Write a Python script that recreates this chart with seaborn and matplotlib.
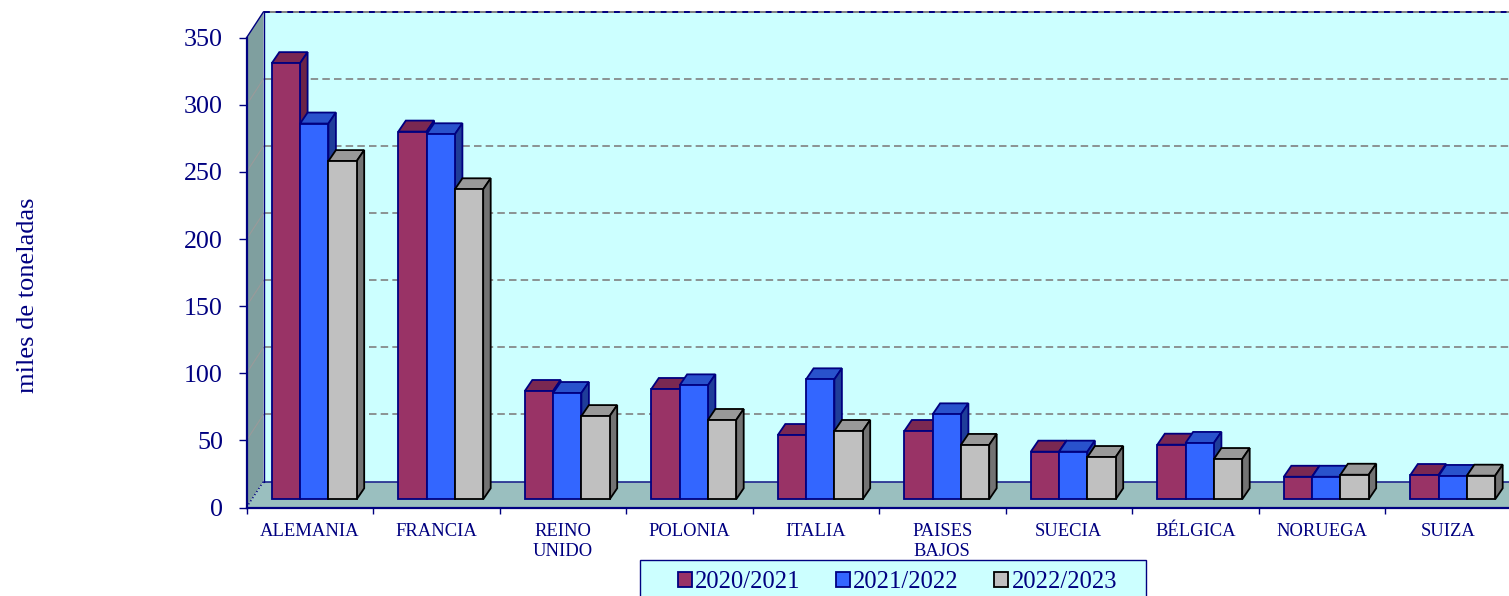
import pandas as pd
import numpy as np
import matplotlib
matplotlib.use('Agg')
import matplotlib.pyplot as plt
from matplotlib.patches import Polygon, Rectangle
import seaborn as sns

paises = ['ALEMANIA', 'FRANCIA', 'REINO\nUNIDO', 'POLONIA', 'ITALIA', 'PAISES\nBAJOS',
          'SUECIA', 'BÉLGICA', 'NORUEGA', 'SUIZA']
campanas = ['2020/2021', '2021/2022', '2022/2023']
v_2020 = [325, 274, 80.7, 82.2, 47.9, 50.9, 35.5, 40.7, 16.8, 18.1]
v_2021 = [280, 272, 79.2, 84.9, 89.4, 63.3, 35.5, 42, 16.8, 17.4]
v_2022 = [252, 231, 62, 59.1, 50.9, 40.5, 31.5, 30, 18.3, 17.6]
yticks = [0, 50, 100, 150, 200, 250, 300, 350]

NAVY = '#000080'
frente = ['#993366', '#3366FF', '#C0C0C0']
tapa = ['#7A2852', '#2952CC', '#999999']
lado = ['#6B2447', '#1F3D99', '#737373']
borde = [NAVY, NAVY, '#000000']

sns.set_style('white')
plt.rcParams['font.family'] = ['Liberation Serif', 'DejaVu Serif']

df = pd.DataFrame({
    'pais': paises * 3,
    'campana': np.repeat(campanas, len(paises)),
    'valor': v_2020 + v_2021 + v_2022,
})

W, H = 1509, 596
fig = plt.figure(figsize=(W / 100, H / 100), dpi=100)
# area del eje en pixeles: x de 246.5, 126.5 px por categoria; y 0 en 507.5, 1.342 px por unidad
PX_CAT, PX_VAL = 126.5, 1.342
ax = fig.add_axes([246.5 / W, (H - 507.5) / H, PX_CAT * 10 / W, PX_VAL * 350 / H])
ax.patch.set_visible(False)

sns.barplot(data=df, x='pais', y='valor', hue='campana', order=paises, hue_order=campanas,
            palette=frente, width=0.671, gap=0, dodge=True, saturation=1, errorbar=None,
            legend=False, ax=ax)

x0, x1 = -0.5, 9.5
ax.set_xlim(x0, x1)
ax.set_ylim(0, 350)

# profundidad de paredes y de barras
dx_p, dy_p = 17 / PX_CAT, 26 / PX_VAL
dx_b, dy_b = 7.5 / PX_CAT, 11 / PX_VAL
sx, sy = 4.5 / PX_CAT, 8.2 / PX_VAL

# paredes y suelo
ax.add_patch(Polygon([(x0 + dx_p, dy_p), (x1 + dx_p, dy_p), (x1 + dx_p, 350 + dy_p), (x0 + dx_p, 350 + dy_p)],
                     fc='#CCFFFF', ec='none', zorder=0.1, clip_on=False))
ax.add_patch(Polygon([(x0, 0), (x0 + dx_p, dy_p), (x0 + dx_p, 350 + dy_p), (x0, 350)],
                     fc='#7F9F9F', ec='none', zorder=0.2, clip_on=False))
ax.add_patch(Polygon([(x0, 0), (x1, 0), (x1 + dx_p, dy_p), (x0 + dx_p, dy_p)],
                     fc='#9ABFBF', ec='none', zorder=0.2, clip_on=False))

# rejilla
for v in yticks[1:-1]:
    ax.plot([x0 + dx_p, x1 + dx_p], [v + dy_p, v + dy_p], color='#808080', lw=1.2, ls=(0, (4.5, 2.5)),
            zorder=0.5, clip_on=False)
    ax.plot([x0, x0 + dx_p], [v, v + dy_p], color='#9A9A9A', lw=0.8, zorder=0.5, clip_on=False)

ax.plot([x0 + dx_p, x1 + dx_p], [350 + dy_p] * 2, color='#808080', lw=1.4, zorder=0.6, clip_on=False)
ax.plot([x0 + dx_p, x1 + dx_p], [350 + dy_p] * 2, color=NAVY, lw=1.4, ls=(0, (3, 3)), zorder=0.7, clip_on=False)
ax.plot([x0 + dx_p, x0 + dx_p], [dy_p, 350 + dy_p], color=NAVY, lw=1.0, zorder=0.7, clip_on=False)
ax.plot([x0, x0 + dx_p], [350, 350 + dy_p], color=NAVY, lw=1.0, zorder=0.7, clip_on=False)
ax.plot([x0, x0 + dx_p], [0, dy_p], color=NAVY, lw=1.0, ls=':', zorder=0.7, clip_on=False)
ax.plot([x0 + dx_p, x1 + dx_p], [dy_p, dy_p], color=NAVY, lw=1.2, alpha=0.8, zorder=0.7, clip_on=False)

# caras 3D de cada barra
for i, cont in enumerate(ax.containers):
    for p in cont:
        x = p.get_x() + sx
        w = p.get_width()
        h = p.get_height()
        p.set_x(x)
        p.set_y(sy)
        p.set_edgecolor(borde[i])
        p.set_linewidth(1.3)
        p.set_zorder(3 + i + 0.2)
        p.set_clip_on(False)
        top = h + sy
        ax.add_patch(Polygon([(x, top), (x + w, top), (x + w + dx_b, top + dy_b), (x + dx_b, top + dy_b)],
                             fc=tapa[i], ec=borde[i], lw=1.3, zorder=3 + i, clip_on=False))
        ax.add_patch(Polygon([(x + w, sy), (x + w + dx_b, sy + dy_b), (x + w + dx_b, top + dy_b), (x + w, top)],
                             fc=lado[i], ec=borde[i], lw=1.3, zorder=3 + i + 0.1, clip_on=False))

# ejes
sns.despine(ax=ax, top=True, right=True)
for s in ['left', 'bottom']:
    ax.spines[s].set_color(NAVY)
    ax.spines[s].set_linewidth(1.6)
    ax.spines[s].set_zorder(2)
ax.set_yticks(yticks)
ax.tick_params(axis='y', length=6, width=1.0, color=NAVY, labelcolor=NAVY, labelsize=18.7, pad=11, left=True)
ax.set_xticks(np.arange(-0.5, 10, 1), minor=True)
ax.tick_params(axis='x', which='minor', length=4, width=1.0, color=NAVY, bottom=True)
ax.tick_params(axis='x', which='major', length=0, labelcolor=NAVY, labelsize=13.4, pad=11)
for t in ax.get_xticklabels():
    t.set_linespacing(1.25)
ax.set_xlabel('')
ax.set_ylabel('')
fig.text(28 / W, 1 - 295 / H, 'miles de toneladas', rotation=90, color=NAVY, fontsize=19,
         ha='center', va='center')

# leyenda
fig.add_artist(Rectangle((640 / W, 1 - 600 / H), 506 / W, 40 / H, transform=fig.transFigure,
                         fc='#CCFFFF', ec=NAVY, lw=1.0, zorder=-1))
handles = [c[0] for c in ax.containers]
fig.legend(handles, campanas, loc='center left', bbox_to_anchor=(678 / W, 1 - 582 / H), ncol=3, frameon=False,
           prop={'size': 17.7}, labelcolor=NAVY, handlelength=0.57, handleheight=0.57, handletextpad=0.13,
           columnspacing=1.44, borderaxespad=0, borderpad=0)

plt.savefig('out.png', dpi=100)
